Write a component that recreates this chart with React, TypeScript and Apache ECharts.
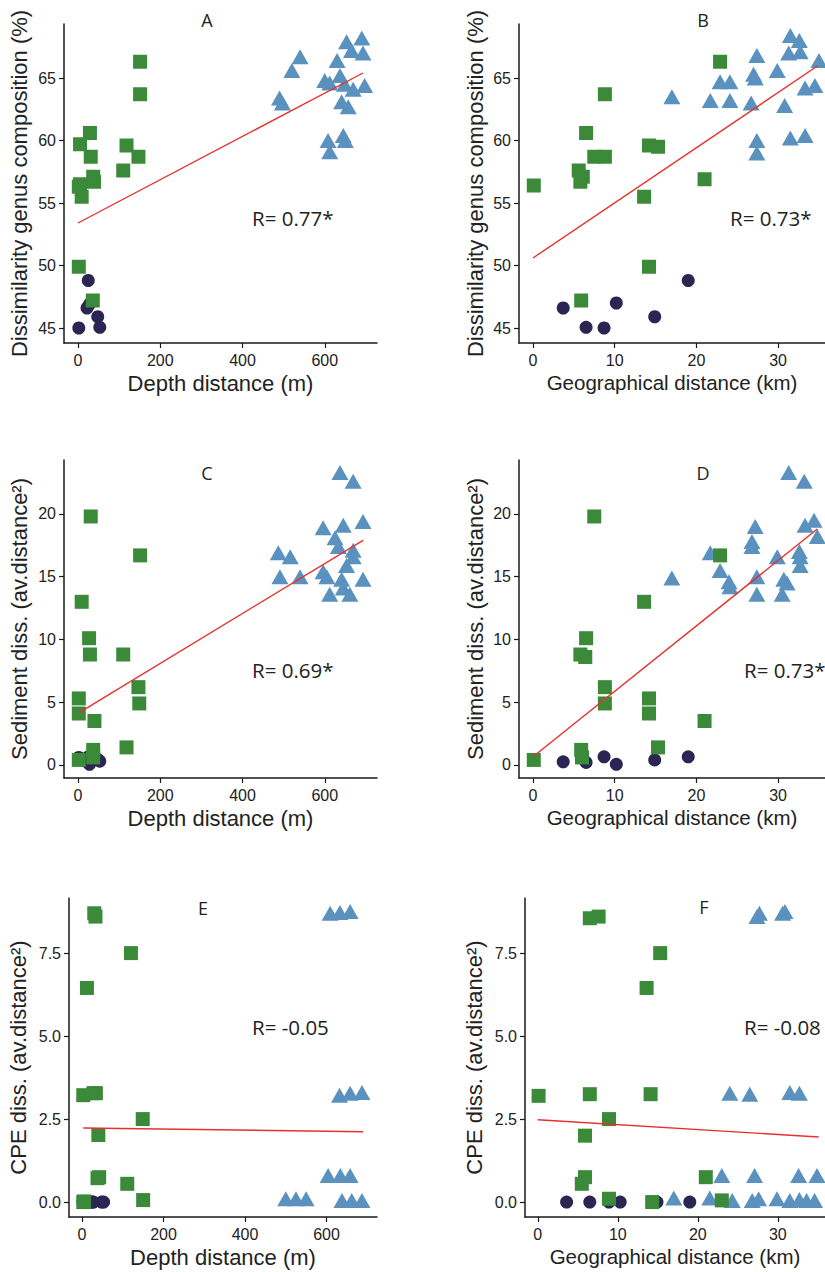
import React, { useEffect, useRef } from 'react';
import * as echarts from 'echarts';

const NAVY = '#2b2553';
const GREEN = '#3b8a3a';
const BLUE = '#5a91bf';
const RED = '#e8302c';

// Panel A: depth distance (m) vs dissimilarity genus composition (%)
const aNavy = [[2, 45.0], [25, 48.8], [22, 46.6], [28, 46.9], [48, 45.9], [53, 45.05]];
const aGreen = [[151, 66.3], [151, 63.7], [29, 60.6], [5, 59.7], [31, 58.7], [118, 59.6], [147, 58.7], [110, 57.6], [37, 57.1], [39, 56.7], [5, 56.5], [2, 56.3], [9, 55.5], [2, 49.9], [36, 47.2]];
const aBlue = [[540, 66.7], [520, 65.6], [490, 63.4], [497, 63.0], [653, 67.9], [690, 68.2], [665, 67.2], [693, 67.0], [630, 66.4], [600, 64.8], [612, 64.6], [637, 65.2], [648, 64.5], [669, 64.1], [697, 64.4], [641, 63.1], [657, 62.7], [608, 60.0], [645, 60.4], [612, 59.1], [650, 60.0]];
const lineA = [[0, 53.4], [693, 65.4]];

// Panel B: geographical distance (km) vs dissimilarity genus composition (%)
const bNavy = [[3.7, 46.6], [6.5, 45.05], [8.7, 45.0], [10.2, 47.0], [14.9, 45.9], [19.0, 48.8]];
const bGreen = [[22.9, 66.3], [8.8, 63.7], [6.5, 60.6], [0.1, 56.4], [5.6, 57.6], [6.1, 57.1], [5.8, 56.7], [7.5, 58.7], [8.8, 58.7], [14.2, 59.6], [15.3, 59.5], [21.0, 56.9], [13.6, 55.5], [14.2, 49.9], [5.9, 47.2]];
const bBlue = [[17.0, 63.5], [21.7, 63.2], [22.9, 64.7], [24.1, 64.7], [24.1, 63.2], [27.4, 66.8], [27.0, 65.3], [27.2, 65.0], [26.7, 63.0], [27.4, 60.0], [27.4, 59.0], [29.9, 65.6], [31.5, 68.4], [32.6, 68.0], [31.3, 67.0], [32.7, 67.1], [30.8, 62.8], [31.5, 60.2], [33.3, 60.4], [33.3, 64.2], [34.5, 64.4], [35.0, 66.4]];
const lineB = [[0, 50.6], [34.9, 66.0]];

// Panel C: depth distance (m) vs sediment dissimilarity
const cNavy = [[2, 0.6], [25, 0.65], [22, 0.25], [28, 0.05], [48, 0.45], [53, 0.3]];
const cGreen = [[31, 19.8], [151, 16.7], [9, 13.0], [27, 10.1], [29, 8.8], [110, 8.8], [147, 6.2], [149, 4.9], [2, 5.3], [2, 4.1], [40, 3.5], [118, 1.4], [37, 1.2], [2, 0.4], [37, 0.6]];
const cBlue = [[637, 23.3], [669, 22.6], [596, 18.9], [645, 19.1], [693, 19.4], [625, 18.1], [633, 17.4], [669, 17.1], [669, 16.6], [487, 16.9], [516, 16.6], [491, 15.0], [540, 15.0], [596, 15.4], [605, 15.0], [653, 15.9], [641, 14.8], [693, 14.8], [612, 13.6], [645, 14.1], [661, 13.6]];
const lineC = [[2, 4.15], [693, 17.9]];

// Panel D: geographical distance (km) vs sediment dissimilarity
const dNavy = [[3.7, 0.25], [6.5, 0.2], [8.7, 0.65], [10.2, 0.05], [14.9, 0.4], [19.0, 0.65]];
const dGreen = [[7.5, 19.8], [22.9, 16.7], [13.6, 13.0], [6.5, 10.1], [5.8, 8.8], [6.4, 8.6], [8.8, 6.2], [8.8, 4.9], [14.2, 5.3], [14.2, 4.1], [21.0, 3.5], [15.3, 1.4], [5.9, 1.2], [6.0, 0.6], [0.1, 0.4]];
const dBlue = [[31.3, 23.3], [33.2, 22.6], [17.0, 14.9], [21.7, 16.9], [22.9, 15.5], [24.0, 14.6], [24.1, 14.2], [27.2, 19.0], [26.8, 17.8], [26.8, 17.4], [27.4, 15.0], [27.4, 13.6], [29.9, 16.6], [30.7, 14.8], [31.1, 14.5], [30.5, 13.6], [32.6, 17.0], [32.7, 16.6], [32.7, 15.9], [33.3, 19.1], [34.4, 19.5], [34.8, 18.2]];
const lineD = [[0, 0.65], [34.8, 18.8]];

// Panel E: depth distance (m) vs CPE dissimilarity
const eNavy = [[2, 0], [22, 0], [25, 0], [28, 0], [48, 0], [53, 0]];
const eGreen = [[30, 8.7], [33, 8.6], [120, 7.5], [12, 6.45], [3, 3.22], [28, 3.28], [34, 3.28], [40, 2.02], [149, 2.5], [42, 0.75], [111, 0.55], [150, 0.06], [3, 0], [5, 0.02], [38, 0.72]];
const eBlue = [[609, 8.7], [633, 8.72], [658, 8.75], [632, 3.22], [658, 3.28], [687, 3.3], [604, 0.8], [634, 0.8], [658, 0.8], [500, 0.1], [525, 0.1], [550, 0.1], [638, 0.05], [662, 0.05], [687, 0.05]];
const lineE = [[3, 2.23], [690, 2.12]];

// Panel F: geographical distance (km) vs CPE dissimilarity
const fNavy = [[3.6, 0], [6.5, 0], [8.9, 0], [10.3, 0], [14.9, 0], [19.0, 0]];
const fGreen = [[0.1, 3.2], [6.5, 3.25], [14.1, 3.25], [8.9, 2.5], [5.9, 2.0], [5.9, 0.75], [5.5, 0.55], [21.0, 0.75], [8.9, 0.1], [14.3, 0.0], [23.0, 0.05], [6.5, 8.55], [7.6, 8.6], [15.3, 7.5], [13.6, 6.45]];
const fBlue = [[27.4, 8.6], [27.7, 8.7], [30.6, 8.7], [30.9, 8.75], [24.0, 3.28], [26.5, 3.25], [31.5, 3.3], [32.7, 3.28], [23.0, 0.8], [27.1, 0.8], [32.6, 0.8], [34.9, 0.8], [17.0, 0.12], [21.5, 0.12], [24.3, 0.05], [26.8, 0.05], [27.6, 0.1], [29.9, 0.1], [31.5, 0.05], [32.7, 0.08], [33.6, 0.05], [34.6, 0.05]];
const lineF = [[0, 2.48], [35.1, 1.96]];

// Tick labels
const depthTicks = [0, 200, 400, 600];
const geoTicks = [0, 10, 20, 30];
const genusTicks = [45, 50, 55, 60, 65];
const sedTicks = [0, 5, 10, 15, 20];
const cpeTicks = [0, 2.5, 5, 7.5];

const panelTitles = ['A', 'B', 'C', 'D', 'E', 'F'];
const rLabels = ['R= 0.77*', 'R= 0.73*', 'R= 0.69*', 'R= 0.73*', 'R= -0.05', 'R= -0.08'];
const depthName = 'Depth distance (m)';
const geoName = 'Geographical distance (km)';
const genusName = 'Dissimilarity genus composition (%)';
const sedName = 'Sediment diss. (av.distance²)';
const cpeName = 'CPE diss. (av.distance²)';

const FONT = 'Liberation Sans, Arial, sans-serif';
const TFONT = 'Open Sans, Liberation Sans, sans-serif';

export default function App() {
  const ref = useRef<HTMLDivElement>(null);
  useEffect(() => {
    if (!ref.current) return;
    const chart = echarts.init(ref.current, null, { renderer: 'svg' });

    const panels = [
      { grid: { left: 64, top: 24, width: 313, height: 319 }, xr: [-34, 727], xt: depthTicks, xn: depthName, xfs: 22, yr: [43.8, 69.32], yt: genusTicks, yn: genusName, yGap: 34, dec: 0, navy: aNavy, green: aGreen, blue: aBlue, line: lineA, title: [207, 20], r: [252, 218] },
      { grid: { left: 519, top: 24, width: 306, height: 319 }, xr: [-1.71, 35.74], xt: geoTicks, xn: geoName, xfs: 20.5, yr: [43.8, 69.32], yt: genusTicks, yn: genusName, yGap: 33, dec: 0, navy: bNavy, green: bGreen, blue: bBlue, line: lineB, title: [703, 20], r: [730, 218] },
      { grid: { left: 64, top: 460, width: 313, height: 318 }, xr: [-34, 727], xt: depthTicks, xn: depthName, xfs: 22, yr: [-1.04, 24.3], yt: sedTicks, yn: sedName, yGap: 34, dec: 0, navy: cNavy, green: cGreen, blue: cBlue, line: lineC, title: [207, 473], r: [252, 670] },
      { grid: { left: 519, top: 460, width: 306, height: 318 }, xr: [-1.71, 35.74], xt: geoTicks, xn: geoName, xfs: 20.5, yr: [-1.04, 24.3], yt: sedTicks, yn: sedName, yGap: 33, dec: 0, navy: dNavy, green: dGreen, blue: dBlue, line: lineD, title: [703, 473], r: [744, 670] },
      { grid: { left: 69, top: 898, width: 308, height: 319 }, xr: [-32, 724], xt: depthTicks, xn: depthName, xfs: 22, yr: [-0.45, 9.16], yt: cpeTicks, yn: cpeName, yGap: 40, dec: 1, navy: eNavy, green: eGreen, blue: eBlue, line: lineE, title: [203, 908], r: [252, 1027] },
      { grid: { left: 525, top: 898, width: 300, height: 319 }, xr: [-1.6, 35.9], xt: geoTicks, xn: geoName, xfs: 20.5, yr: [-0.45, 9.16], yt: cpeTicks, yn: cpeName, yGap: 40, dec: 1, navy: fNavy, green: fGreen, blue: fBlue, line: lineF, title: [704, 907], r: [744, 1027] },
    ];

    const axisLine = { show: true, onZero: false, lineStyle: { color: '#1a1a1a', width: 1.5 } };
    const grids: any[] = [];
    const xAxes: any[] = [];
    const yAxes: any[] = [];
    const series: any[] = [];
    const graphics: any[] = [];

    panels.forEach((p, i) => {
      grids.push({ ...p.grid, containLabel: false });
      xAxes.push({
        type: 'value', gridIndex: i, min: p.xr[0], max: p.xr[1],
        axisLine, splitLine: { show: false },
        axisTick: { show: true, customValues: p.xt, length: 5, lineStyle: { color: '#1a1a1a', width: 1.2 } },
        axisLabel: { customValues: p.xt, color: '#222', fontSize: 16, fontFamily: FONT, margin: 9 },
        name: p.xn, nameLocation: 'middle', nameGap: 29,
        nameTextStyle: { color: '#222', fontSize: p.xfs, fontFamily: FONT },
      });
      yAxes.push({
        type: 'value', gridIndex: i, min: p.yr[0], max: p.yr[1],
        axisLine, splitLine: { show: false },
        axisTick: { show: true, customValues: p.yt, length: 5, lineStyle: { color: '#1a1a1a', width: 1.2 } },
        axisLabel: { customValues: p.yt, color: '#222', fontSize: 16, fontFamily: FONT, margin: 8, formatter: (v: number) => v.toFixed(p.dec) },
        name: p.yn, nameLocation: 'middle', nameGap: p.yGap,
        nameTextStyle: { color: '#222', fontSize: 22, fontFamily: FONT },
      });
      const base = { type: 'scatter', xAxisIndex: i, yAxisIndex: i, silent: true, emphasis: { disabled: true } };
      series.push({ ...base, data: p.navy, symbol: 'circle', symbolSize: 13, itemStyle: { color: NAVY, opacity: 1 }, z: 2 });
      series.push({ ...base, data: p.blue, symbol: 'triangle', symbolSize: [17, 15], itemStyle: { color: BLUE, opacity: 1 }, z: 3 });
      series.push({ ...base, data: p.green, symbol: 'rect', symbolSize: 14, itemStyle: { color: GREEN, opacity: 1 }, z: 4 });
      series.push({ type: 'line', xAxisIndex: i, yAxisIndex: i, data: p.line, showSymbol: false, symbol: 'none', silent: true, lineStyle: { color: RED, width: 1.4 }, z: 5 });
      graphics.push({ type: 'text', x: p.title[0], y: p.title[1], style: { text: panelTitles[i], fill: '#222', font: `18px ${TFONT}`, align: 'center', verticalAlign: 'middle' }, z: 10 });
      graphics.push({ type: 'text', x: p.r[0], y: p.r[1], style: { text: rLabels[i], fill: '#222', font: `20.5px ${TFONT}`, align: 'left', verticalAlign: 'middle' }, z: 10 });
    });

    chart.setOption({
      animation: false,
      backgroundColor: '#ffffff',
      grid: grids,
      xAxis: xAxes,
      yAxis: yAxes,
      series,
      graphic: graphics,
    });
    return () => chart.dispose();
  }, []);

  return <div ref={ref} style={{ position: 'absolute', left: 0, top: 0, width: 825, height: 1272 }} />;
}
